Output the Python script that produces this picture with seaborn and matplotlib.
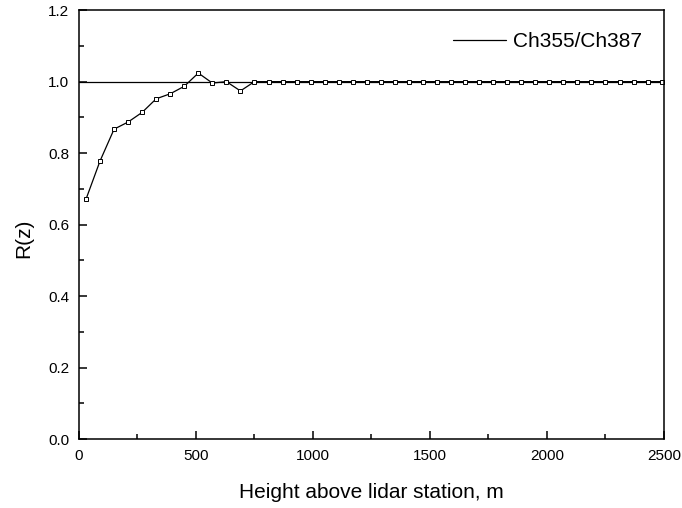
import numpy as np
import pandas as pd
import matplotlib
matplotlib.use("Agg")
import matplotlib.pyplot as plt
from matplotlib.lines import Line2D
import seaborn as sns

# Overlap ratio R(z) of the 355 nm and 387 nm channels vs. height
height_m = [30 + 60 * i for i in range(42)]
ratio_start = [0.671, 0.778, 0.867, 0.887, 0.914, 0.952, 0.966, 0.987,
               1.024, 0.996, 1.0, 0.974]
ratio = ratio_start + [1.0] * (len(height_m) - len(ratio_start))

x_ticks = [0, 500, 1000, 1500, 2000, 2500]
y_ticks = [0.0, 0.2, 0.4, 0.6, 0.8, 1.0, 1.2]

df = pd.DataFrame({"height": height_m, "R": ratio})

sns.set_style("ticks", {"axes.edgecolor": "black", "text.color": "black",
                        "xtick.color": "black", "ytick.color": "black",
                        "axes.labelcolor": "black"})
plt.rcParams["font.family"] = ["Liberation Sans", "DejaVu Sans"]

fig = plt.figure(figsize=(6.82, 5.08), dpi=100)
ax = fig.add_axes([0.1158, 0.1358, 0.9736 - 0.1158, 0.980 - 0.1358])

ax.axhline(1.0, color="black", lw=0.9, zorder=1)
sns.lineplot(data=df, x="height", y="R", ax=ax, color="black", lw=0.9,
             marker="s", markersize=3.2, markerfacecolor="white",
             markeredgecolor="black", markeredgewidth=0.7,
             legend=False, zorder=2)

ax.set_xlim(0, 2500)
ax.set_ylim(0.0, 1.2)
ax.set_xticks(x_ticks)
ax.set_yticks(y_ticks)
ax.set_yticklabels([f"{v:.1f}" for v in y_ticks])
ax.set_xticks(np.arange(250, 2500, 500), minor=True)
ax.set_yticks(np.arange(0.1, 1.2, 0.2), minor=True)
ax.tick_params(which="both", direction="in", labelsize=11, width=1.1,
               colors="black", pad=7)
ax.tick_params(which="major", length=6)
ax.tick_params(which="minor", length=3.5)
for s in ax.spines.values():
    s.set_linewidth(1.1)
    s.set_color("black")
    s.set_visible(True)

ax.set_xlabel("Height above lidar station, m", fontsize=15, labelpad=14.5,
              color="black")
ax.set_ylabel("R(z)", fontsize=15, color="black")
ax.yaxis.set_label_coords(-0.0786, 0.4685)

handle = Line2D([], [], color="black", lw=0.9)
ax.legend([handle], ["Ch355/Ch387"], loc="upper right", frameon=False,
          fontsize=15, handlelength=2.55, handletextpad=0.35,
          bbox_to_anchor=(0.995, 0.993), labelcolor="black")

fig.savefig("out.png", dpi=100)
